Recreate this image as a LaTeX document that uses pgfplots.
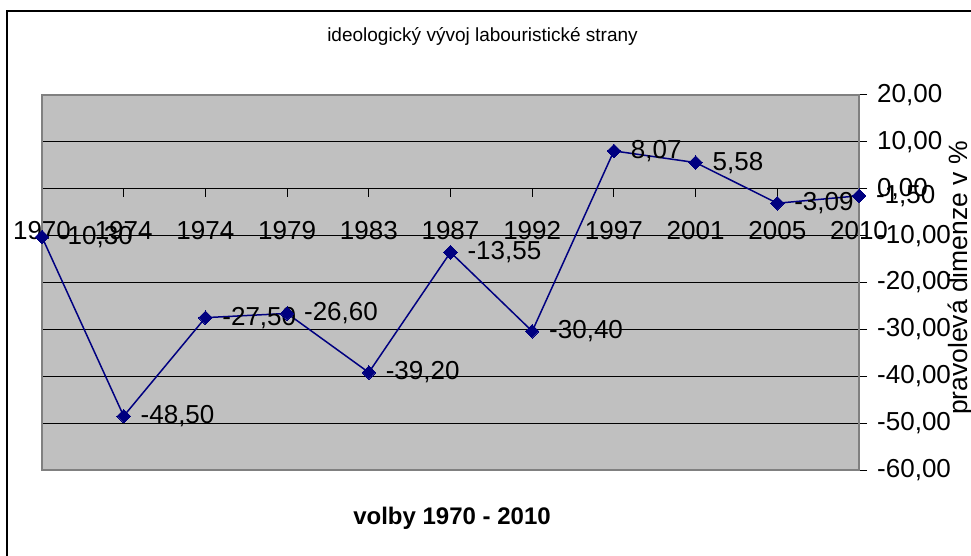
\documentclass[border=0pt]{standalone}
\usepackage{pgfplots}
\pgfplotsset{compat=1.18}
\usepackage{pgfplotstable}
\usepackage{fontspec}
\setmainfont{Liberation Sans}
\definecolor{navy}{HTML}{000080}
\definecolor{plotgray}{HTML}{C0C0C0}
\definecolor{bordergray}{HTML}{808080}
\pgfplotstableread{
x y lab
0 -10.30 -10,30
1 -48.50 -48,50
2 -27.50 -27,50
3 -26.60 -26,60
4 -39.20 -39,20
5 -13.55 -13,55
6 -30.40 -30,40
7 8.07 8,07
8 5.58 5,58
9 -3.09 -3,09
10 -1.50 -1,50
}\datatable
\begin{document}
\begin{tikzpicture}[x=1pt,y=1pt]
\useasboundingbox (0,0) rectangle (971,555);
\draw[line width=1.5pt] (7,-2) -- (7,544) -- (973,544);
\node[anchor=base,inner sep=0pt,font=\fontsize{19}{23}\selectfont] at (482.5,513) {ideologický vývoj labouristické strany};
\node[anchor=base,inner sep=0pt,font=\bfseries\fontsize{24}{28}\selectfont] at (452,31) {volby 1970 - 2010};
\begin{axis}[
  at={(42pt,85pt)}, anchor=south west,
  scale only axis, width=817pt, height=375pt,
  xmin=0, xmax=10, ymin=-60, ymax=20,
  axis x line=middle, axis y line=right,
  axis line style={-, black, line width=1.2pt},
  axis background/.style={fill=plotgray},
  xtick={0,...,10},
  xticklabels={1970,1974,1974,1979,1983,1987,1992,1997,2001,2005,2010},
  ytick={-60,-50,...,20},
  yticklabels={{-60,00},{-50,00},{-40,00},{-30,00},{-20,00},{-10,00},{0,00},{10,00},{20,00}},
  tick label style={font=\fontsize{26}{31}\selectfont, inner sep=0pt},
  xticklabel style={anchor=base, yshift=-43pt},
  yticklabel style={anchor=west, xshift=10pt},
  ymajorgrids, grid style={black, line width=0.9pt},
  tick align=outside, major tick length=8pt,
  tick style={black, line width=1pt},
  hide obscured x ticks=false, hide obscured y ticks=false,
  clip=false,
]
\draw[bordergray, line width=2pt] (rel axis cs:0,0) rectangle (rel axis cs:1,1);
\addplot[navy, line width=1.5pt, mark=square*, mark size=4.8pt,
  mark options={rotate=45, fill=navy, draw=navy, line width=0pt},
  nodes near coords, point meta=explicit symbolic,
  nodes near coords style={anchor=west, xshift=17pt, inner sep=0pt, text=black, font=\fontsize{26}{31}\selectfont}]
  table[x=x, y=y, meta=lab] {\datatable};
\end{axis}
\node[rotate=90,anchor=base,inner sep=0pt,font=\fontsize{26.5}{31}\selectfont] at (967,277) {pravolevá dimenze v \%};
\end{tikzpicture}
\end{document}
